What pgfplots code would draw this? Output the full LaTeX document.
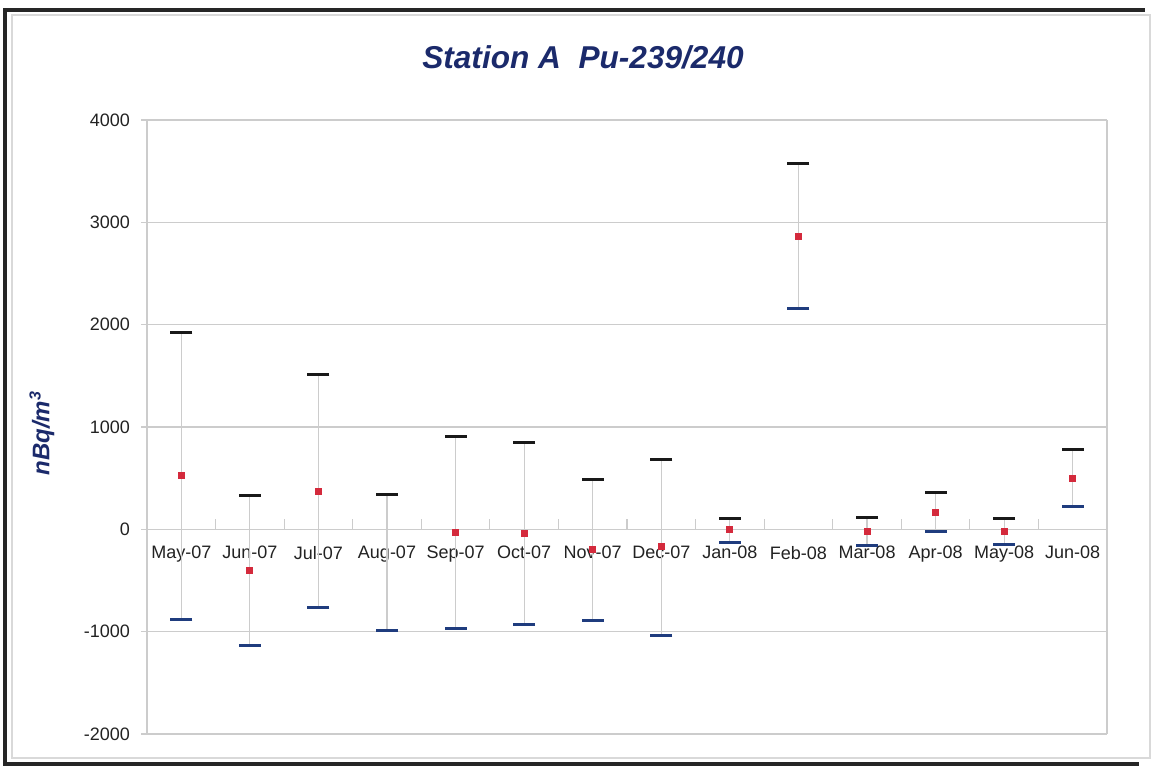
\documentclass[border=0pt]{standalone}
\usepackage{pgfplots}
\usepackage{pgfplotstable}
\pgfplotsset{compat=1.18}
\usepackage{fontspec}
\setmainfont{Liberation Sans}

\definecolor{titlenavy}{HTML}{1B2A6B}
\definecolor{lowcap}{HTML}{1F3C7E}
\definecolor{dotred}{HTML}{D42A3C}
\definecolor{gridgray}{HTML}{CCCCCC}
\definecolor{ticktext}{HTML}{222222}

% x = month index (May-07 = 0), hi / val / lo in nBq/m^3
\pgfplotstableread{
x  hi    val   lo
0  1925  528   -880
1  332   -400  -1134
2  1515  375   -762
3  342   nan   -987
4  909   -29   -967
5  853   -39   -930
6  490   -196  -890
7  685   -166  -1036
8  110   0     -125
9  3570  2860  2160
10 115   -25   -157
11 360   165   -25
12 108   -25   -150
13 782   498   222
}\stationdata

\begin{document}
\begin{tikzpicture}
\begin{axis}[
    scale only axis,
    width=480pt, height=307pt,
    xmin=-0.5, xmax=13.5,
    ymin=-2000, ymax=4000,
    axis x line*=middle,
    axis y line*=left,
    axis line style={gridgray, line width=0.7pt},
    xtick={0,...,13},
    xticklabels={May-07,Jun-07,Jul-07,Aug-07,Sep-07,Oct-07,Nov-07,Dec-07,Jan-08,Feb-08,Mar-08,Apr-08,May-08,Jun-08},
    minor xtick={0.5,1.5,...,12.5},
    major x tick style={draw=none},
    minor x tick style={gridgray, line width=0.6pt},
    minor tick length=5pt,
    x tick label style={font=\fontsize{9}{10}\selectfont, text=ticktext, yshift=-5pt},
    ytick={-2000,-1000,...,4000},
    y tick style={gridgray, line width=0.6pt},
    ytick align=outside,
    major tick length=3pt,
    y tick label style={font=\fontsize{9}{10}\selectfont, text=ticktext, xshift=-2pt},
    /pgf/number format/set thousands separator={},
    /pgf/number format/assume math mode=true,
    ymajorgrids,
    grid style={gridgray, line width=0.7pt},
    ylabel={\bfseries\itshape nBq/m\textsuperscript{3}},
    ylabel style={at={(axis description cs:0,0.49)}, anchor=center, yshift=52.5pt,
                  font=\fontsize{12}{14}\selectfont, text=titlenavy},
    unbounded coords=discard,
    clip=false,
]
% high values with the range line down to the low value
\addplot[only marks, mark=-, mark size=5.5pt, mark options={line width=1.5pt, color=black!90},
    error bars/.cd, y dir=minus, y explicit, error mark=none,
    error bar style={gray!40, line width=0.6pt}]
    table[x=x, y=hi, y error minus expr=\thisrow{hi}-\thisrow{lo}] {\stationdata};
% low values
\addplot[only marks, mark=-, mark size=5.5pt, mark options={line width=1.5pt, color=lowcap}]
    table[x=x, y=lo] {\stationdata};
% measured values
\addplot[only marks, mark=square*, mark size=1.5pt, color=dotred]
    table[x=x, y=val] {\stationdata};

\draw[gridgray, line width=0.7pt] (rel axis cs:1,0) -- (rel axis cs:1,1);
\coordinate (ll) at (rel axis cs:0,0);
\coordinate (ur) at (rel axis cs:1,1);
\coordinate (tc) at (rel axis cs:0.5,1);
\end{axis}

% title
\node[font=\fontsize{15.8}{18}\selectfont\bfseries\itshape, text=titlenavy]
    at ([shift={(-22pt,31.5pt)}]tc) {Station A\ \ Pu-239/240};

% chart frame
\draw[gray!30, line width=0.8pt] ([shift={(-67.5pt,-12pt)}]ll) rectangle ([shift={(21.5pt,52.5pt)}]ur);
\draw[black!85, line width=2pt]
    ([shift={(-71pt,-15pt)}]ll) -- ([shift={(-71pt,55pt)}]ll |- ur) -- ([shift={(19pt,55pt)}]ur);
\draw[black!85, line width=2pt] ([shift={(-72pt,-15pt)}]ll) -- ([shift={(16pt,-15pt)}]ur |- ll);
\path ([shift={(-73.5pt,-16.5pt)}]ll) rectangle ([shift={(26pt,60pt)}]ur);
\end{tikzpicture}
\end{document}
